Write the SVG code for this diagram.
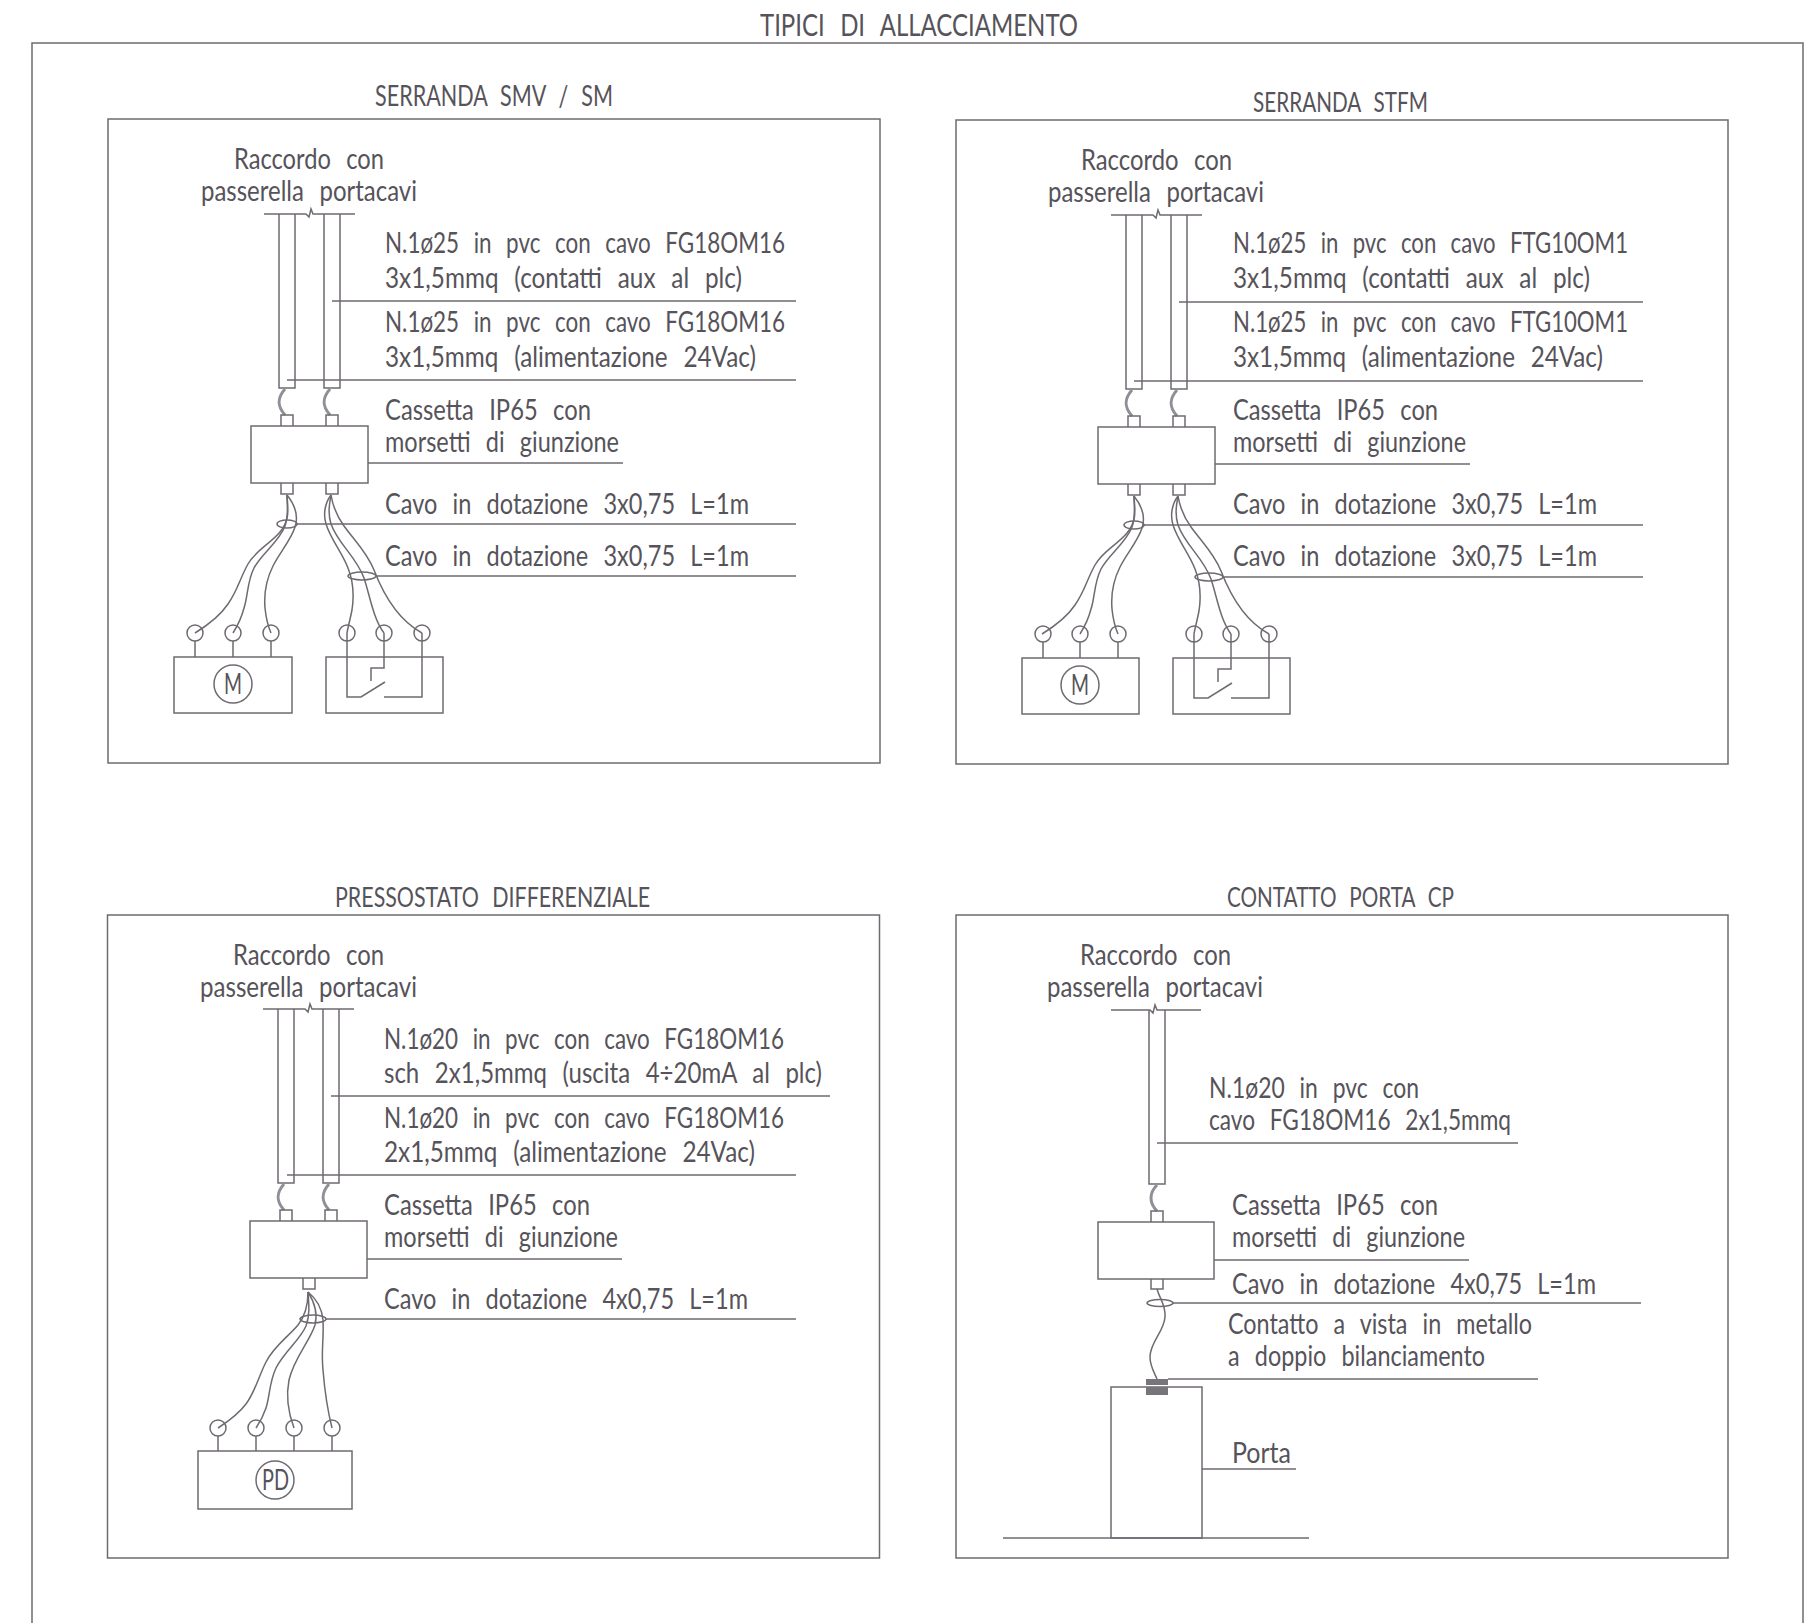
<svg xmlns="http://www.w3.org/2000/svg" width="1806" height="1623" viewBox="0 0 1806 1623">
<style>
.l{fill:none;stroke:#6f6a72;stroke-width:1.5}
.f{fill:none;stroke:#8f8f98;stroke-width:3}
text{font-family:"Lato","Open Sans","Liberation Sans",sans-serif;font-weight:400;fill:#56535a;font-size:28px;word-spacing:11px}
.h{font-size:29px;word-spacing:10px}
.tt{font-size:31px;word-spacing:12px}
.s{font-size:27px;word-spacing:10px}
</style>
<rect width="1806" height="1623" fill="#fff"/>
<path id="frame" class="l" d="M32 1623V43H1803V1623"/>
<text id="title" class="tt" x="760" y="36" textLength="318" lengthAdjust="spacingAndGlyphs">TIPICI DI ALLACCIAMENTO</text>

<g id="panel-smv">
<rect class="l" x="108" y="119" width="772" height="644"/>
<text class="h" x="375" y="106" textLength="238" lengthAdjust="spacingAndGlyphs">SERRANDA SMV / SM</text>
<text x="234" y="169" textLength="150" lengthAdjust="spacingAndGlyphs">Raccordo con</text>
<text x="201" y="201" textLength="216" lengthAdjust="spacingAndGlyphs">passerella portacavi</text>
<text x="385" y="253" textLength="400" lengthAdjust="spacingAndGlyphs">N.1ø25 in pvc con cavo FG18OM16</text>
<text x="385" y="288" textLength="357" lengthAdjust="spacingAndGlyphs">3x1,5mmq (contatti aux al plc)</text>
<text x="385" y="332" textLength="400" lengthAdjust="spacingAndGlyphs">N.1ø25 in pvc con cavo FG18OM16</text>
<text x="385" y="367" textLength="371" lengthAdjust="spacingAndGlyphs">3x1,5mmq (alimentazione 24Vac)</text>
<text x="385" y="420" textLength="206" lengthAdjust="spacingAndGlyphs">Cassetta IP65 con</text>
<text x="385" y="452" textLength="234" lengthAdjust="spacingAndGlyphs">morsetti di giunzione</text>
<text x="385" y="514" textLength="364" lengthAdjust="spacingAndGlyphs">Cavo in dotazione 3x0,75 L=1m</text>
<text x="385" y="566" textLength="364" lengthAdjust="spacingAndGlyphs">Cavo in dotazione 3x0,75 L=1m</text>
<path class="l" d="M264 214H306L309 217L311 209L313 214H355M279 214V388H295V214M324 214V388H340V214"/>
<path class="f" d="M285 389C277 398 277 406 285 415M330 389C322 398 322 406 330 415"/>
<path class="l" d="M281 426V415H293V426M326 426V415H338V426"/>
<rect class="l" x="251" y="426" width="117" height="57"/>
<path class="l" d="M281 483V494H293V483M326 483V494H338V483"/>
<g id="connectors-smv" class="l">
<path d="M287 495C288 510 290 520 280 532C270 544 256 550 248 564C240 578 238 590 228 604C220 616 208 625 195 633"/>
<path d="M287 495C287 505 289 515 285 526C279 542 262 553 254 568C247 582 248 596 244 608C242 616 238 625 233 633"/>
<path d="M287 495C295 505 299 515 295 527C291 540 280 552 273 566C265 582 264 596 265 608C266 618 268 626 271 633"/>
<path d="M331 495C325 503 323 514 326 524C331 540 342 552 348 568C354 583 354 597 352 610C350 620 348 627 347 633"/>
<path d="M331 495C329 506 328 514 331 524C338 544 356 556 364 578C370 596 373 618 384 633"/>
<path d="M331 495C333 507 336 515 344 526C354 540 367 552 374 570C384 596 400 621 422 633"/>
<ellipse cx="287" cy="524" rx="10" ry="4"/><ellipse cx="362" cy="576" rx="14" ry="4"/>
<path d="M332 301H796M287 380H796M368 463H623M297 524H796M376 576H796"/>
</g>
<g class="l"><circle cx="195" cy="633" r="8"/><circle cx="233" cy="633" r="8"/><circle cx="271" cy="633" r="8"/><path d="M195 641V657M233 641V657M271 641V657"/><circle cx="233" cy="684" r="19"/></g>
<rect class="l" x="174" y="657" width="118" height="56"/>
<text x="224" y="694" textLength="18" lengthAdjust="spacingAndGlyphs">M</text>
<g class="l"><circle cx="347" cy="633" r="8"/><circle cx="384" cy="633" r="8"/><circle cx="422" cy="633" r="8"/><path d="M347 633V697H361L385 682M384 633V668H371V681M422 633V697H384"/></g>
<rect class="l" x="326" y="657" width="117" height="56"/>
</g>

<g id="panel-stfm">
<rect class="l" x="956" y="120" width="772" height="644"/>
<text class="s" x="1253" y="112" textLength="175" lengthAdjust="spacingAndGlyphs">SERRANDA STFM</text>
<text x="1081" y="170" textLength="151" lengthAdjust="spacingAndGlyphs">Raccordo con</text>
<text x="1048" y="202" textLength="216" lengthAdjust="spacingAndGlyphs">passerella portacavi</text>
<text x="1233" y="253" textLength="395" lengthAdjust="spacingAndGlyphs">N.1ø25 in pvc con cavo FTG10OM1</text>
<text x="1233" y="288" textLength="357" lengthAdjust="spacingAndGlyphs">3x1,5mmq (contatti aux al plc)</text>
<text x="1233" y="332" textLength="395" lengthAdjust="spacingAndGlyphs">N.1ø25 in pvc con cavo FTG10OM1</text>
<text x="1233" y="367" textLength="370" lengthAdjust="spacingAndGlyphs">3x1,5mmq (alimentazione 24Vac)</text>
<text x="1233" y="420" textLength="205" lengthAdjust="spacingAndGlyphs">Cassetta IP65 con</text>
<text x="1233" y="452" textLength="233" lengthAdjust="spacingAndGlyphs">morsetti di giunzione</text>
<text x="1233" y="514" textLength="364" lengthAdjust="spacingAndGlyphs">Cavo in dotazione 3x0,75 L=1m</text>
<text x="1233" y="566" textLength="364" lengthAdjust="spacingAndGlyphs">Cavo in dotazione 3x0,75 L=1m</text>
<g transform="translate(847 1)">
<path class="l" d="M264 214H306L309 217L311 209L313 214H355M279 214V388H295V214M324 214V388H340V214"/>
<path class="f" d="M285 389C277 398 277 406 285 415M330 389C322 398 322 406 330 415"/>
<path class="l" d="M281 426V415H293V426M326 426V415H338V426"/>
<rect class="l" x="251" y="426" width="117" height="57"/>
<path class="l" d="M281 483V494H293V483M326 483V494H338V483"/>
<g id="connectors-stfm" class="l">
<path d="M287 495C288 510 290 520 280 532C270 544 256 550 248 564C240 578 238 590 228 604C220 616 208 625 195 633"/>
<path d="M287 495C287 505 289 515 285 526C279 542 262 553 254 568C247 582 248 596 244 608C242 616 238 625 233 633"/>
<path d="M287 495C295 505 299 515 295 527C291 540 280 552 273 566C265 582 264 596 265 608C266 618 268 626 271 633"/>
<path d="M331 495C325 503 323 514 326 524C331 540 342 552 348 568C354 583 354 597 352 610C350 620 348 627 347 633"/>
<path d="M331 495C329 506 328 514 331 524C338 544 356 556 364 578C370 596 373 618 384 633"/>
<path d="M331 495C333 507 336 515 344 526C354 540 367 552 374 570C384 596 400 621 422 633"/>
<ellipse cx="287" cy="524" rx="10" ry="4"/><ellipse cx="362" cy="576" rx="14" ry="4"/>
<path d="M332 301H796M287 380H796M368 463H623M297 524H796M376 576H796"/>
</g>
<g class="l"><circle cx="196" cy="633" r="8"/><circle cx="233" cy="633" r="8"/><circle cx="271" cy="633" r="8"/><path d="M196 641V657M233 641V657M271 641V657"/><circle cx="233" cy="684" r="19"/></g>
<rect class="l" x="175" y="657" width="117" height="56"/>
<text x="224" y="694" textLength="18" lengthAdjust="spacingAndGlyphs">M</text>
<g class="l"><circle cx="347" cy="633" r="8"/><circle cx="384" cy="633" r="8"/><circle cx="422" cy="633" r="8"/><path d="M347 633V697H361L385 682M384 633V668H371V681M422 633V697H384"/></g>
<rect class="l" x="326" y="657" width="117" height="56"/>
</g>
</g>

<g id="panel-pd">
<rect class="l" x="107.500" y="915" width="772" height="643"/>
<text class="s" x="335" y="907" textLength="315" lengthAdjust="spacingAndGlyphs">PRESSOSTATO DIFFERENZIALE</text>
<text x="233" y="965" textLength="151" lengthAdjust="spacingAndGlyphs">Raccordo con</text>
<text x="200" y="997" textLength="217" lengthAdjust="spacingAndGlyphs">passerella portacavi</text>
<text x="384" y="1049" textLength="400" lengthAdjust="spacingAndGlyphs">N.1ø20 in pvc con cavo FG18OM16</text>
<text x="384" y="1083" textLength="438" lengthAdjust="spacingAndGlyphs">sch 2x1,5mmq (uscita 4÷20mA al plc)</text>
<text x="384" y="1128" textLength="400" lengthAdjust="spacingAndGlyphs">N.1ø20 in pvc con cavo FG18OM16</text>
<text x="384" y="1162" textLength="371" lengthAdjust="spacingAndGlyphs">2x1,5mmq (alimentazione 24Vac)</text>
<text x="384" y="1215" textLength="206" lengthAdjust="spacingAndGlyphs">Cassetta IP65 con</text>
<text x="384" y="1247" textLength="234" lengthAdjust="spacingAndGlyphs">morsetti di giunzione</text>
<text x="384" y="1309" textLength="364" lengthAdjust="spacingAndGlyphs">Cavo in dotazione 4x0,75 L=1m</text>
<path class="l" d="M263 1009H305L308 1012L310 1004L312 1009H354M278 1009V1183H294V1009M323 1009V1183H339V1009"/>
<path class="f" d="M284 1184C276 1193 276 1201 284 1210M329 1184C321 1193 321 1201 329 1210"/>
<path class="l" d="M280 1221V1210H292V1221M325 1221V1210H337V1221"/>
<rect class="l" x="250" y="1221" width="117" height="57"/>
<path class="l" d="M303 1278V1289H315V1278"/>
<g id="connectors-pd" class="l">
<path d="M308 1292C308 1305 306 1315 298 1325C288 1337 274 1346 266 1362C258 1378 255 1392 246 1404C240 1412 232 1419 218 1428"/>
<path d="M308 1292C309 1305 310 1315 306 1326C300 1340 284 1352 276 1368C269 1383 270 1396 266 1408C263 1417 260 1422 256 1428"/>
<path d="M308 1292C315 1303 318 1313 315 1325C310 1341 294 1358 289 1380C286 1395 288 1412 294 1428"/>
<path d="M308 1292C318 1300 322 1310 323 1320C324 1340 321 1350 323 1370C325 1395 328 1412 332 1428"/>
<ellipse cx="313" cy="1319" rx="13" ry="4"/>
<path d="M367 1259H622M326 1319H796M287 1175H796M331 1096H830"/>
</g>
<g class="l"><circle cx="218" cy="1428" r="8"/><circle cx="256" cy="1428" r="8"/><circle cx="294" cy="1428" r="8"/><circle cx="332" cy="1428" r="8"/><path d="M218 1436V1451M256 1436V1451M294 1436V1451M332 1436V1451"/><circle cx="275" cy="1480" r="19"/></g>
<rect class="l" x="198" y="1451" width="154" height="58"/>
<text x="262" y="1490" textLength="27" lengthAdjust="spacingAndGlyphs">PD</text>
</g>

<g id="panel-cp">
<rect class="l" x="956" y="915" width="772" height="643"/>
<text class="s" x="1227" y="907" textLength="227" lengthAdjust="spacingAndGlyphs">CONTATTO PORTA CP</text>
<text x="1080" y="965" textLength="151" lengthAdjust="spacingAndGlyphs">Raccordo con</text>
<text x="1047" y="997" textLength="216" lengthAdjust="spacingAndGlyphs">passerella portacavi</text>
<text x="1209" y="1098" textLength="210" lengthAdjust="spacingAndGlyphs">N.1ø20 in pvc con</text>
<text x="1209" y="1130" textLength="302" lengthAdjust="spacingAndGlyphs">cavo FG18OM16 2x1,5mmq</text>
<text x="1232" y="1215" textLength="206" lengthAdjust="spacingAndGlyphs">Cassetta IP65 con</text>
<text x="1232" y="1247" textLength="233" lengthAdjust="spacingAndGlyphs">morsetti di giunzione</text>
<text x="1232" y="1294" textLength="364" lengthAdjust="spacingAndGlyphs">Cavo in dotazione 4x0,75 L=1m</text>
<text x="1228" y="1334" textLength="304" lengthAdjust="spacingAndGlyphs">Contatto a vista in metallo</text>
<text x="1228" y="1366" textLength="257" lengthAdjust="spacingAndGlyphs">a doppio bilanciamento</text>
<text x="1232" y="1463" textLength="59" lengthAdjust="spacingAndGlyphs">Porta</text>
<path class="l" d="M1111 1010H1150L1153 1013L1155 1005L1157 1010H1201M1149 1010V1184H1165V1010"/>
<path class="f" d="M1157 1185C1149 1193 1149 1203 1157 1211"/>
<path class="l" d="M1151 1222V1211H1163V1222"/>
<rect class="l" x="1098" y="1222" width="116" height="57"/>
<path class="l" d="M1151 1279V1289H1163V1279"/>
<g id="connectors-cp" class="l">
<path d="M1157 1289C1160 1300 1166 1305 1165 1317C1164 1332 1150 1342 1150 1357C1150 1366 1154 1372 1157 1379"/>
<ellipse cx="1160" cy="1303" rx="13" ry="3.500"/>
<path d="M1157 1143H1518M1214 1260H1469M1173 1303H1641M1168 1379H1538M1202 1469H1296"/>
</g>
<rect class="l" x="1111" y="1387" width="91" height="151"/>
<path class="l" d="M1003 1538H1309"/>
<rect x="1146" y="1379" width="22" height="6" fill="#77757a"/>
<rect x="1146" y="1387" width="22" height="8" fill="#77757a"/>
</g>
</svg>
